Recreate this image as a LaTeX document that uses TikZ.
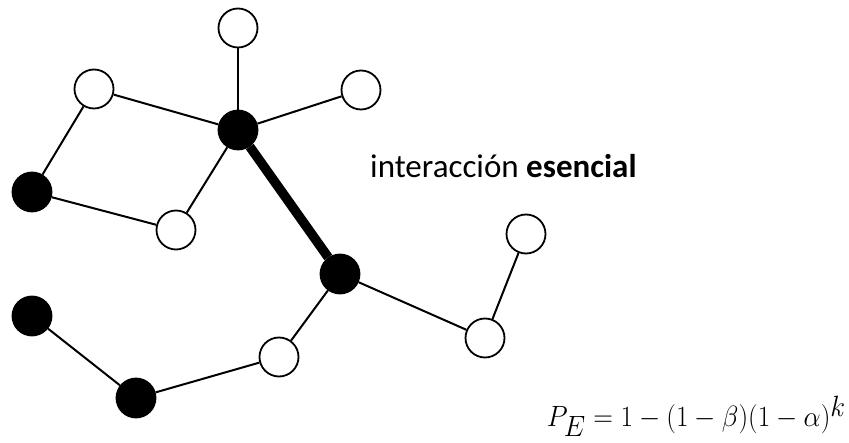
\documentclass[tikz,border=0pt]{standalone}
\usepackage{fontspec}
\newfontfamily\labelfont{Carlito}
\begin{document}
\begin{tikzpicture}[x=1pt,y=-1pt,
  wnode/.style={circle,draw=black,fill=white,line width=1.8pt,minimum size=39pt,inner sep=0pt},
  bnode/.style={circle,draw=black,fill=black,line width=1.8pt,minimum size=39pt,inner sep=0pt},
  edge/.style={draw=black,line width=2pt},
  heavy/.style={draw=black,line width=9.5pt}]
\useasboundingbox (0,0) rectangle (849,443);
% nodes
\node[wnode] (top) at (238,28) {};
\node[wnode] (ul) at (94,89) {};
\node[wnode] (ur) at (361,90) {};
\node[bnode] (hub) at (238,130) {};
\node[bnode] (lb) at (32,192) {};
\node[wnode] (bh) at (176,230) {};
\node[bnode] (rb) at (340,274) {};
\node[wnode] (frt) at (526,234) {};
\node[wnode] (rbw) at (485,338) {};
\node[wnode] (mw) at (279,357) {};
\node[bnode] (lbl) at (32,316) {};
\node[bnode] (bb) at (136,398) {};
% edges
\draw[edge] (top) -- (hub);
\draw[edge] (ul) -- (hub);
\draw[edge] (ur) -- (hub);
\draw[edge] (hub) -- (bh);
\draw[edge] (ul) -- (lb);
\draw[edge] (lb) -- (bh);
\draw[heavy] (hub) -- (rb);
\draw[edge] (rb) -- (mw);
\draw[edge] (rb) -- (rbw);
\draw[edge] (rbw) -- (frt);
\draw[edge] (mw) -- (bb);
\draw[edge] (bb) -- (lbl);
% labels
\node[anchor=base west,inner sep=0pt,font=\labelfont\fontsize{33}{40}\selectfont] (lab) at (370,178) {interacción \textbf{esencial}};
\node[anchor=base east,inner sep=0pt,font=\fontsize{36}{42}\selectfont] (form) at (846,427) {\resizebox{299pt}{31pt}{$P_E = 1 - (1-\beta)(1-\alpha)^k$}};
\end{tikzpicture}
\end{document}
